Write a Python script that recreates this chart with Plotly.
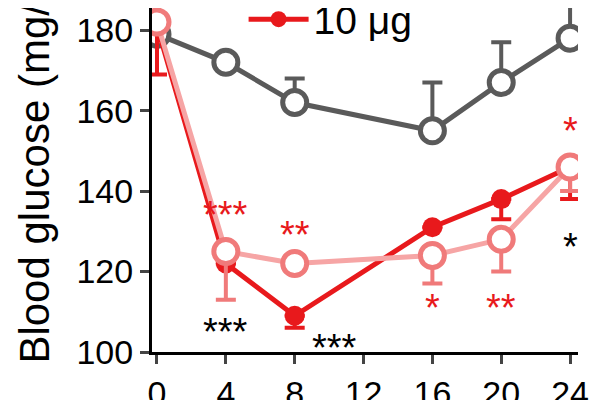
import plotly.graph_objects as go

hours = [0, 4, 8, 16, 20, 24]
ctrl = [179, 172, 162, 155, 167, 178]
ctrl_err = [0, 0, 6, 12, 10, 12]
red = [181, 122, 109, 131, 138, 146]
red_err = [12, 0, 3, 0, 5, 8]
pink = [182, 125, 122, 124, 128, 146]
pink_err = [0, 12, 0, 7, 8, 6]

stars = [  # x, y, text, color
    (4, 134, "***", "#e8191c"), (4, 105, "***", "black"),
    (8, 129, "**", "#e8191c"), (10.3, 101, "***", "black"),
    (16, 111, "*", "#e8191c"), (20, 111, "**", "#e8191c"),
    (24, 155, "*", "#e8191c"), (24, 126, "*", "black"),
]

fig = go.Figure()
fig.add_trace(go.Scatter(x=hours, y=ctrl, mode="lines+markers", showlegend=False,
    line=dict(color="#5a5a5a", width=5),
    marker=dict(size=24, color="white", line=dict(color="#5a5a5a", width=5)),
    error_y=dict(type="data", array=ctrl_err, arrayminus=[0]*6, color="#5a5a5a", thickness=4, width=10)))
fig.add_trace(go.Scatter(x=hours, y=red, mode="lines+markers", name="10 μg",
    line=dict(color="#e8191c", width=5),
    marker=dict(size=20, color="#e8191c"),
    error_y=dict(type="data", array=[0]*6, arrayminus=red_err, color="#e8191c", thickness=4, width=10)))
fig.add_trace(go.Scatter(x=hours, y=pink, mode="lines+markers", showlegend=False,
    line=dict(color="#f6a5a5", width=5),
    marker=dict(size=24, color="white", line=dict(color="#f07a7a", width=5)),
    error_y=dict(type="data", array=[0]*6, arrayminus=pink_err, color="#f07a7a", thickness=4, width=10)))

for x, y, t, c in stars:
    fig.add_annotation(x=x, y=y, text=t, showarrow=False, font=dict(size=38, color=c, family="Arial"))

fig.add_annotation(xref="paper", yref="paper", x=-0.275, y=-0.04, xanchor="center", yanchor="bottom",
    text="Blood glucose (mg/dL)", textangle=-90, showarrow=False,
    font=dict(size=42, color="black", family="Arial"))

fig.update_layout(width=600, height=400, plot_bgcolor="white", paper_bgcolor="white",
    margin=dict(l=144, r=30, t=0, b=56, autoexpand=False),
    font=dict(family="Arial", size=34, color="black"),
    legend=dict(x=0.215, y=1.06, yanchor="top", xanchor="left", bgcolor="rgba(0,0,0,0)",
                font=dict(size=39), itemwidth=60),
    xaxis=dict(range=[-0.29, 24.46], tickvals=[0, 4, 8, 12, 16, 20, 24], showline=True, linecolor="black",
               linewidth=3, ticks="outside", ticklen=9, tickwidth=3, showgrid=False, zeroline=False),
    yaxis=dict(range=[100, 185.5], tickvals=[100, 120, 140, 160, 180], showline=True, linecolor="black",
               linewidth=3, ticks="outside", ticklen=9, tickwidth=3, showgrid=False, zeroline=False))
fig.write_html("out.html")
